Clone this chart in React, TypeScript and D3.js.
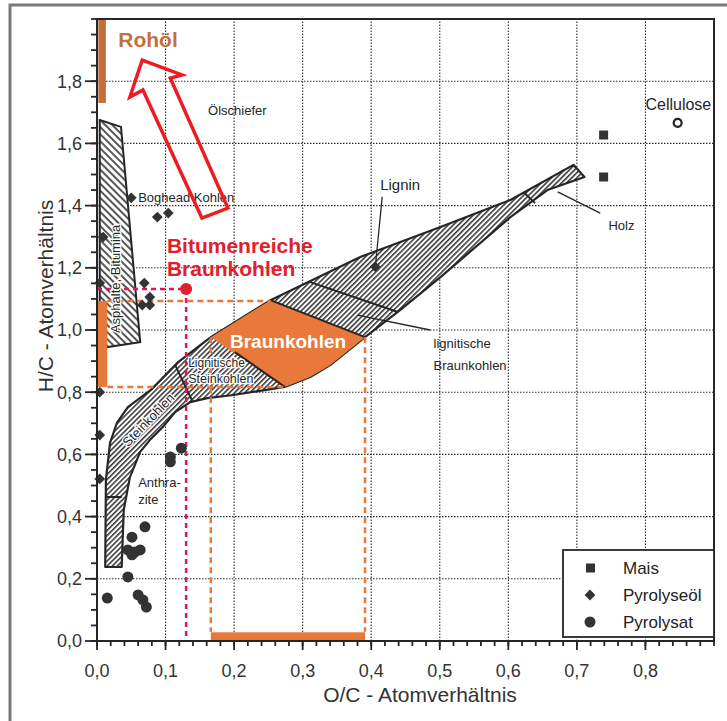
import React from "react";
import * as d3 from "d3";

// van Krevelen diagram: H/C over O/C
const W = 727;
const H = 721;

const xMajor = [0, 0.1, 0.2, 0.3, 0.4, 0.5, 0.6, 0.7, 0.8];
const yMajor = [0, 0.2, 0.4, 0.6, 0.8, 1.0, 1.2, 1.4, 1.6, 1.8];
const xGrid = [0.1, 0.2, 0.3, 0.4, 0.5, 0.6, 0.7, 0.8];
const yGrid = [0.2, 0.4, 0.6, 0.8, 1.0, 1.2, 1.4, 1.6, 1.8];

// measured points [O/C, H/C]
const maisPoints = [
  [0.739, 1.627],
  [0.739, 1.492],
];
const pyrolyseoelPoints = [
  [0.05, 1.425],
  [0.088, 1.363],
  [0.104, 1.376],
  [0.009, 1.299],
  [0.004, 1.151],
  [0.069, 1.151],
  [0.077, 1.106],
  [0.066, 1.08],
  [0.077, 1.08],
  [0.004, 0.8],
  [0.004, 0.662],
  [0.004, 0.521],
];
const pyrolysatPoints = [
  [0.123, 0.62],
  [0.107, 0.592],
  [0.107, 0.576],
  [0.07, 0.367],
  [0.051, 0.334],
  [0.045, 0.293],
  [0.055, 0.286],
  [0.063, 0.293],
  [0.051, 0.277],
  [0.045, 0.206],
  [0.015, 0.138],
  [0.06, 0.148],
  [0.067, 0.132],
  [0.072, 0.109],
];
const cellulosePoint = [0.847, 1.666];
const ligninPoint = [0.406, 1.203];
const bitumenPoint = [0.13, 1.132];

// regions
const coalBand = [
  [0.012, 0.238], [0.013, 0.518], [0.019, 0.637], [0.029, 0.701], [0.045, 0.752],
  [0.08, 0.81], [0.117, 0.894], [0.166, 0.977], [0.253, 1.096], [0.384, 1.235],
  [0.501, 1.331], [0.603, 1.418], [0.695, 1.531], [0.711, 1.492], [0.657, 1.45],
  [0.603, 1.363], [0.501, 1.17], [0.442, 1.064], [0.391, 0.977], [0.34, 0.887],
  [0.311, 0.849], [0.274, 0.817], [0.199, 0.791], [0.161, 0.781], [0.136, 0.768],
  [0.114, 0.736], [0.096, 0.688], [0.077, 0.646], [0.063, 0.608], [0.048, 0.527],
  [0.039, 0.421], [0.036, 0.238],
];
const asphaltBand = [
  [0.004, 1.675], [0.035, 1.653], [0.063, 0.961], [0.015, 0.945], [0.004, 1.0],
];
const braunkohlenArea = [
  [0.166, 0.977], [0.253, 1.096], [0.391, 0.977], [0.34, 0.887], [0.311, 0.849], [0.274, 0.817],
];
const separators = [
  [[0.013, 0.463], [0.036, 0.463]],
  [[0.114, 0.887], [0.139, 0.772]],
  [[0.201, 0.929], [0.274, 0.817]],
  [[0.253, 1.096], [0.391, 0.977]],
  [[0.311, 1.154], [0.439, 1.058]],
  [[0.622, 1.444], [0.639, 1.408]],
];
const pointers = [
  [[0.672, 1.444], [0.734, 1.376]],
  [[0.38, 1.048], [0.486, 1.0]],
  [[0.416, 1.428], [0.406, 1.203]],
];
const arrowOutline = [
  [0.066, 1.868], [0.124, 1.82], [0.107, 1.81], [0.191, 1.392],
  [0.153, 1.36], [0.067, 1.772], [0.048, 1.749],
];

// ranges highlighted in orange
const rohoelRange = [1.73, 2.0];
const braunkohleHC = [0.817, 1.093];
const braunkohleOC = [0.166, 0.391];

const legendItems = ["Mais", "Pyrolyseöl", "Pyrolysat"];

const FONT = "'Liberation Sans', Arial, Helvetica, sans-serif";
const INK = "#262626";
const ORANGE = "#e8793a";
const RUST = "#c4703c";
const RED = "#e0202c";
const PINK = "#d81b55";

const x = d3.scaleLinear().domain([0, 0.9]).range([97, 714]);
const y = d3.scaleLinear().domain([0, 2.0]).range([641, 19]);

const fmt = (v: number) => d3.format(".1f")(v).replace(".", ",");
const poly = (pts: number[][]) =>
  d3.line().x((d: any) => x(d[0])).y((d: any) => y(d[1])).curve(d3.curveLinearClosed)(pts as any) || "";
const seg = (pts: number[][]) =>
  d3.line().x((d: any) => x(d[0])).y((d: any) => y(d[1]))(pts as any) || "";

const diamond = d3.symbol().type(d3.symbolSquare).size(58)();

const Diamond = ({ cx, cy }: { cx: number; cy: number }) => (
  <path d={diamond || ""} transform={`translate(${cx},${cy}) rotate(45)`} fill="#333" />
);

export default function App() {
  const xMinor = d3.range(0, 0.9001, 0.02);
  const yMinor = d3.range(0, 2.0001, 0.05);

  const label = (
    t: string,
    p: number[],
    size: number,
    extra: any = {}
  ) => (
    <text x={x(p[0])} y={y(p[1])} fontSize={size} fontFamily={FONT} fill={INK} {...extra}>
      {t}
    </text>
  );

  return (
    <svg width={W} height={H} style={{ position: "absolute", left: 0, top: 0 }}>
      <defs>
        <pattern id="hatchBand" patternUnits="userSpaceOnUse" width="3.6" height="3.6" patternTransform="rotate(45)">
          <line x1="0.8" y1="0" x2="0.8" y2="3.6" stroke="#1e1e1e" strokeWidth="1.4" />
        </pattern>
        <pattern id="hatchAsph" patternUnits="userSpaceOnUse" width="5" height="5" patternTransform="rotate(-45)">
          <line x1="1" y1="0" x2="1" y2="5" stroke="#1e1e1e" strokeWidth="1.5" />
        </pattern>
      </defs>
      <rect width={W} height={H} fill="#fff" />
      {/* scan frame */}
      <path d={`M10,${H} V5 H${W}`} fill="none" stroke="#7a7a7a" strokeWidth={3} />

      {/* dotted grid */}
      <g stroke="#2e2e2e" strokeWidth={1.1} strokeDasharray="1.5 1.5">
        {xGrid.map((v) => (
          <line key={"gx" + v} x1={x(v)} x2={x(v)} y1={y(0)} y2={y(2)} />
        ))}
        {yGrid.map((v) => (
          <line key={"gy" + v} x1={x(0)} x2={x(0.9)} y1={y(v)} y2={y(v)} />
        ))}
      </g>

      {/* hatched regions */}
      <path d={poly(asphaltBand)} fill="#fff" />
      <path d={poly(asphaltBand)} fill="url(#hatchAsph)" stroke={INK} strokeWidth={2} />
      <path d={poly(coalBand)} fill="#fff" />
      <path d={poly(coalBand)} fill="url(#hatchBand)" stroke={INK} strokeWidth={2.2} strokeLinejoin="round" />
      <path d={poly(braunkohlenArea)} fill={ORANGE} />
      <g stroke={INK} strokeWidth={2} fill="none">
        {separators.map((s, i) => (
          <path key={"s" + i} d={seg(s)} />
        ))}
      </g>
      <g stroke={INK} strokeWidth={1.3} fill="none">
        {pointers.map((s, i) => (
          <path key={"p" + i} d={seg(s)} />
        ))}
      </g>

      {/* orange range markers */}
      <g stroke={ORANGE} strokeWidth={2.5} strokeDasharray="6 4" fill="none">
        <line x1={x(0.015)} x2={x(0.253)} y1={y(braunkohleHC[1])} y2={y(braunkohleHC[1])} />
        <line x1={x(0.015)} x2={x(0.274)} y1={y(braunkohleHC[0])} y2={y(braunkohleHC[0])} />
        <line x1={x(braunkohleOC[0])} x2={x(braunkohleOC[0])} y1={y(0.977)} y2={y(0.03)} />
        <line x1={x(braunkohleOC[1])} x2={x(braunkohleOC[1])} y1={y(0.977)} y2={y(0.03)} />
      </g>
      <rect
        x={x(0)}
        y={y(braunkohleHC[1])}
        width={x(0.015) - x(0)}
        height={y(braunkohleHC[0]) - y(braunkohleHC[1])}
        fill={ORANGE}
      />
      <rect
        x={x(braunkohleOC[0])}
        y={y(0.028)}
        width={x(braunkohleOC[1]) - x(braunkohleOC[0])}
        height={y(0) - y(0.028)}
        fill={ORANGE}
      />
      <rect
        x={x(0.002)}
        y={y(rohoelRange[1])}
        width={x(0.013) - x(0.002)}
        height={y(rohoelRange[0]) - y(rohoelRange[1])}
        fill={RUST}
      />

      {/* bitumen-rich lignite marker */}
      <g stroke={PINK} strokeWidth={2.5} strokeDasharray="5 4" fill="none">
        <line x1={x(0)} x2={x(bitumenPoint[0])} y1={y(bitumenPoint[1])} y2={y(bitumenPoint[1])} />
        <line x1={x(bitumenPoint[0])} x2={x(bitumenPoint[0])} y1={y(bitumenPoint[1])} y2={y(0)} />
      </g>
      <circle cx={x(bitumenPoint[0])} cy={y(bitumenPoint[1])} r={6} fill={RED} />

      {/* data points */}
      {maisPoints.map((p, i) => (
        <rect key={"m" + i} x={x(p[0]) - 4.5} y={y(p[1]) - 4.5} width={9} height={9} fill="#333" />
      ))}
      {pyrolyseoelPoints.map((p, i) => (
        <Diamond key={"d" + i} cx={x(p[0])} cy={y(p[1])} />
      ))}
      {pyrolysatPoints.map((p, i) => (
        <circle key={"c" + i} cx={x(p[0])} cy={y(p[1])} r={5.5} fill="#333" />
      ))}
      <circle cx={x(cellulosePoint[0])} cy={y(cellulosePoint[1])} r={4} fill="#fff" stroke="#222" strokeWidth={2.2} />
      <Diamond cx={x(ligninPoint[0])} cy={y(ligninPoint[1])} />

      {/* annotations */}
      {label("Rohöl", [0.031, 1.91], 21, { fontWeight: "bold", fill: RUST })}
      {label("Ölschiefer", [0.162, 1.691], 13)}
      {label("Boghead Kohlen", [0.06, 1.412], 13)}
      {label("Bitumenreiche", [0.102, 1.248], 21, { fontWeight: "bold", fill: RED })}
      {label("Braunkohlen", [0.102, 1.174], 21, { fontWeight: "bold", fill: RED })}
      {label("Braunkohlen", [0.194, 0.942], 19, { fontWeight: "bold", fill: "#fff" })}
      {label("Lignin", [0.413, 1.45], 15)}
      {label("Holz", [0.746, 1.322], 13)}
      {label("lignitische", [0.491, 0.942], 13)}
      {label("Braunkohlen", [0.491, 0.871], 13)}
      {label("Cellulose", [0.8, 1.707], 16)}
      {label("Lignitische", [0.133, 0.881], 12, { stroke: "#fff", strokeWidth: 2.5, paintOrder: "stroke" })}
      {label("Steinkohlen", [0.133, 0.83], 12.5, { stroke: "#fff", strokeWidth: 2.5, paintOrder: "stroke" })}
      {label("Anthra-", [0.06, 0.495], 13)}
      {label("zite", [0.06, 0.441], 13)}
      <text
        transform={`translate(${x(0.075)},${y(0.711)}) rotate(-46)`}
        textAnchor="middle"
        dy="0.35em"
        fontSize={13}
        fontFamily={FONT}
        fill={INK}
        stroke="#fff"
        strokeWidth={2.5}
        paintOrder="stroke"
      >
        Steinkohlen
      </text>
      <text
        transform={`translate(${x(0.034)},${y(0.99)}) rotate(-90)`}
        fontSize={13}
        fontFamily={FONT}
        fill={INK}
        stroke="#fff"
        strokeWidth={2.5}
        paintOrder="stroke"
      >
        Asphalte, Bitumina
      </text>

      {/* arrow towards crude oil */}
      <path d={poly(arrowOutline)} fill="none" stroke="#ee1c22" strokeWidth={3.5} strokeLinejoin="miter" />

      {/* frame and axes */}
      <rect x={x(0)} y={y(2)} width={x(0.9) - x(0)} height={y(0) - y(2)} fill="none" stroke={INK} strokeWidth={2} />
      <g stroke={INK} strokeWidth={1.8}>
        {xMinor.map((v, i) => (
          <line key={"xm" + i} x1={x(v)} x2={x(v)} y1={y(0)} y2={y(0) + 5} />
        ))}
        {xMajor.map((v) => (
          <line key={"xM" + v} x1={x(v)} x2={x(v)} y1={y(0)} y2={y(0) + 9} />
        ))}
        {yMinor.map((v, i) => (
          <line key={"ym" + i} x1={x(0) - 6} x2={x(0)} y1={y(v)} y2={y(v)} />
        ))}
        {yMajor.map((v) => (
          <line key={"yM" + v} x1={x(0) - 12} x2={x(0)} y1={y(v)} y2={y(v)} />
        ))}
      </g>
      <g fontFamily={FONT} fontSize={18} fill="#333">
        {xMajor.map((v) => (
          <text key={"xl" + v} x={x(v)} y={677} textAnchor="middle">
            {fmt(v)}
          </text>
        ))}
        {yMajor.map((v) => (
          <text key={"yl" + v} x={82} y={y(v)} dy="0.35em" textAnchor="end">
            {fmt(v)}
          </text>
        ))}
      </g>
      <text x={420} y={702} textAnchor="middle" fontFamily={FONT} fontSize={21} fill="#333">
        O/C - Atomverhältnis
      </text>
      <text
        transform="translate(53,296) rotate(-90)"
        textAnchor="middle"
        fontFamily={FONT}
        fontSize={21}
        fill="#333"
      >
        H/C - Atomverhältnis
      </text>

      {/* legend */}
      <rect x={563} y={550} width={x(0.9) - 563} height={87} fill="#fff" stroke={INK} strokeWidth={1.8} />
      {legendItems.map((t, i) => {
        const cy = 568 + i * 27;
        return (
          <g key={t}>
            {i === 0 && <rect x={586} y={cy - 4.5} width={9} height={9} fill="#333" />}
            {i === 1 && <Diamond cx={590} cy={cy} />}
            {i === 2 && <circle cx={590} cy={cy} r={5.5} fill="#333" />}
            <text x={623} y={cy} dy="0.35em" fontFamily={FONT} fontSize={17} fill="#222">
              {t}
            </text>
          </g>
        );
      })}
    </svg>
  );
}
